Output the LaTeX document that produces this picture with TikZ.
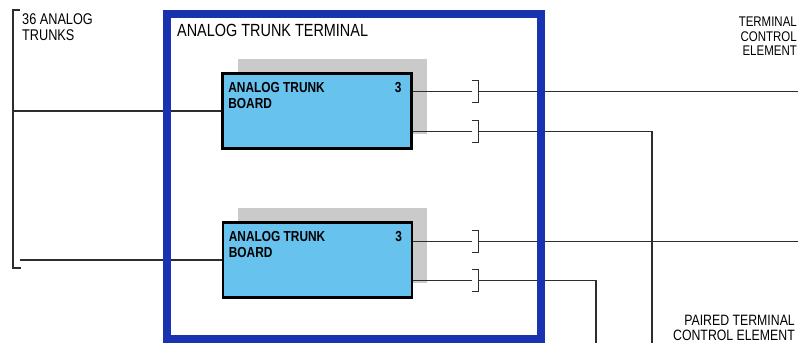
\documentclass[tikz,border=0pt]{standalone}
\usepackage{fontspec}
\setmainfont{Liberation Sans}
\newfontfamily\condfont{Liberation Sans}[FakeStretch=0.82]
\usepackage{xcolor}
\usetikzlibrary{calc, positioning, shadows}

\definecolor{frameblue}{RGB}{24,50,176}
\definecolor{boardblue}{RGB}{104,194,238}
\definecolor{shadowgray}{RGB}{202,202,202}
\definecolor{wiregray}{RGB}{45,45,45}

\pgfdeclarelayer{fg}
\pgfsetlayers{main,fg}

\begin{document}
\begin{tikzpicture}[x=1bp, y=-1bp,
    every node/.style={inner sep=0pt, font=\condfont},
    frame/.style={draw=frameblue, line width=8bp, minimum width=374bp,
                  minimum height=325bp},
    board/.style={draw=black, line width=2.6bp, fill=boardblue,
                  minimum width=189bp, minimum height=75bp,
                  drop shadow={shadow xshift=15bp, shadow yshift=15bp,
                               fill=shadowgray, opacity=1}},
    boardtxt/.style={font=\condfont\bfseries\fontsize{14.5bp}{16bp}\selectfont,
                     align=left},
    lbl/.style={font=\condfont\fontsize{14bp}{14.5bp}\selectfont},
    wire/.style={draw=wiregray, line width=1.1bp},
    jack/.pic={
      \draw[wire] (-4,-11) -- (3,-11) -- (3,11) -- (-4,11);
      \coordinate (-in) at (-4,0);
      \coordinate (-out) at (3,0);
    },
  ]
  \useasboundingbox (0,0) rectangle (798,343);

  % terminal frame, drawn over the wires
  \begin{pgfonlayer}{fg}
    \node[frame] (term) at (354,176.5) {};
  \end{pgfonlayer}
  \node[anchor=west, font=\condfont\fontsize{17.6bp}{18bp}\selectfont]
    (termtxt) at ($(term.north west)+(14,20)$) {ANALOG TRUNK TERMINAL};

  % boards
  \node[board] (b1) at (317,111) {};
  \node[board] (b2) at (317.5,260) {};
  \foreach \b in {b1,b2} {
    \node[boardtxt, anchor=north west] (\b txt) at ($(\b.north west)+(7,9.5)$)
      {ANALOG TRUNK\\BOARD};
    \node[boardtxt, anchor=north east] (\b num) at ($(\b.north east)+(-11,9.5)$) {3};
  }

  % trunk side
  \node[lbl, anchor=north west, align=left, font=\condfont\fontsize{15.5bp}{16.5bp}\selectfont]
    (trunks) at (22,13) {36 ANALOG\\TRUNKS};
  \coordinate (tr1) at (20,10);
  \coordinate (tr2) at (21,268);
  \draw[wire] (tr1) -- (13,0 |- tr1) -- (13,0 |- tr2) -- (tr2);
  \coordinate (in1) at (13,0 |- b1.west);
  \coordinate (in2) at (20,0 |- b2.west);
  \draw[wire] (in1) -- (b1.west);
  \draw[wire] (in2) -- (b2.west);

  % outputs and jacks
  \coordinate (o1) at ($(b1.north east)+(0,19.5)$);
  \coordinate (o2) at ($(b1.south east)+(0,-18.5)$);
  \coordinate (o3) at ($(b2.north east)+(0,20.5)$);
  \coordinate (o4) at ($(b2.south east)+(0,-18.5)$);
  \foreach \o in {o1,o2,o3,o4} {
    \pic (j\o) at (475.5,0 |- \o) {jack};
    \draw[wire] (\o) -- (j\o-in);
  }

  \coordinate (tce1) at (798,0 |- o1);
  \coordinate (tce2) at (798,0 |- o3);
  \coordinate (ptce1) at (652,343);
  \coordinate (ptce2) at (596,343);
  \draw[wire] (jo1-out) -- (tce1);
  \draw[wire] (jo3-out) -- (tce2);
  \draw[wire] (jo2-out) -| (ptce1);
  \draw[wire] (jo4-out) -| (ptce2);

  \node[lbl, anchor=north east, align=right] (tce) at (797,17)
    {TERMINAL\\CONTROL\\ELEMENT};
  \node[lbl, anchor=south east, align=right,
        font=\condfont\fontsize{15bp}{15.5bp}\selectfont] (ptce) at (795,341)
    {PAIRED TERMINAL\\CONTROL ELEMENT};
\end{tikzpicture}
\end{document}
